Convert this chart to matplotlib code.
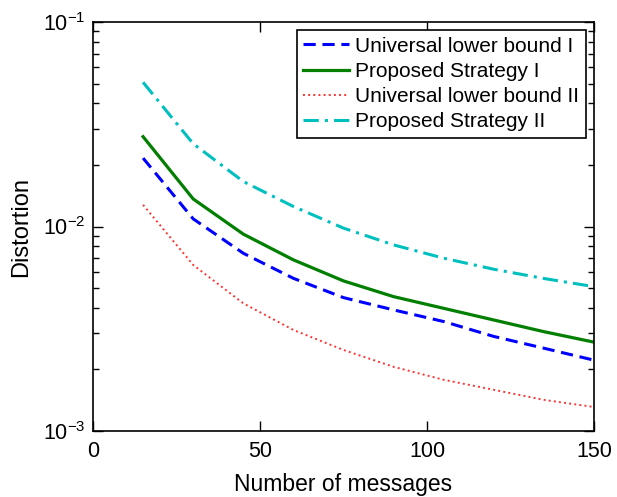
import matplotlib
matplotlib.use("Agg")
import matplotlib.pyplot as plt
import numpy as np

plt.rcParams['font.family'] = ['Liberation Sans', 'DejaVu Sans']
plt.rcParams['mathtext.fontset'] = 'custom'
plt.rcParams['mathtext.rm'] = 'Liberation Sans'

# number of messages
messages = [15, 30, 45, 60, 75, 90, 105, 120, 135, 150]

# distortion values
lower_bound_1 = [0.0216, 0.0109, 0.0074, 0.00558, 0.00449, 0.00391, 0.00343, 0.00290, 0.00254, 0.00222]
strategy_1 = [0.0275, 0.01364, 0.00918, 0.00687, 0.00542, 0.00454, 0.00398, 0.00349, 0.00306, 0.00272]
lower_bound_2 = [0.01276, 0.00649, 0.00421, 0.00312, 0.00249, 0.00206, 0.00178, 0.00159, 0.00142, 0.00131]
strategy_2 = [0.0507, 0.0254, 0.0166, 0.01253, 0.00982, 0.00813, 0.00700, 0.00618, 0.00557, 0.00508]

fig = plt.figure(figsize=(6.17, 4.97), dpi=100)
ax = fig.add_axes([0.1507, 0.1328, 0.812, 0.8229])

ax.semilogy(messages, lower_bound_1, '--', color='#0000ff', lw=2.2, dashes=(4, 2.2), label='Universal lower bound I')
ax.semilogy(messages, strategy_1, '-', color='#007f00', lw=2.3, label='Proposed Strategy I')
ax.semilogy(messages, lower_bound_2, ':', color='#ff3333', lw=1.4, label='Universal lower bound II')
ax.semilogy(messages, strategy_2, '-.', color='#00bfbf', lw=2.2, dashes=(5, 2, 1, 2), label='Proposed Strategy II')

ax.set_xlim(0, 150)
ax.set_ylim(1e-3, 1e-1)
ax.set_xticks([0, 50, 100, 150])
ax.set_yticks([1e-3, 1e-2, 1e-1])
ax.tick_params(which='both', direction='in', top=True, right=True, labelsize=15.5)
ax.tick_params(which='major', length=7, width=1)
ax.tick_params(which='minor', length=4, width=1)
ax.tick_params(axis='x', pad=7)
ax.tick_params(axis='y', pad=5)
for s in ax.spines.values():
    s.set_linewidth(1.2)

ax.set_xlabel('Number of messages', fontsize=16.5, labelpad=8)
ax.set_ylabel('Distortion', fontsize=17, labelpad=8)

leg = ax.legend(loc='upper right', fontsize=15, frameon=True, fancybox=False,
                edgecolor='black', framealpha=1, handlelength=2.2,
                handletextpad=0.3, labelspacing=0.3, borderpad=0.3,
                borderaxespad=0.4)
leg.get_frame().set_linewidth(1.2)

fig.savefig('out.png', dpi=100)
